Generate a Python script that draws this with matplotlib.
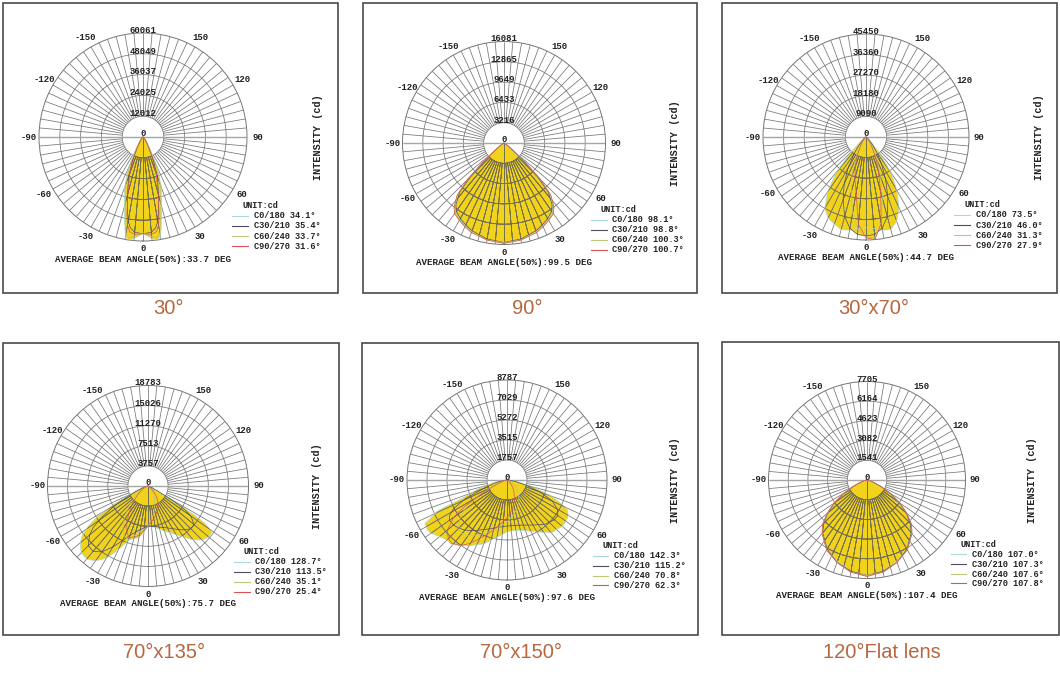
import numpy as np
import matplotlib
matplotlib.use("Agg")
from matplotlib import pyplot as plt
from matplotlib.patches import Rectangle

W, H = 1060, 678
MONO = "Liberation Mono"
YELLOW = "#f2d31c"
GRID = "#767676"
GRID_IN = "#77704c"
CAPTION = "#b8663e"
C_NAMES = ["C0/180", "C30/210", "C60/240", "C90/270"]
C_COLORS = ["#a9d9dc", "#4d4d66", "#bcc877", "#d9545a"]

# relative intensity (% of outer ring) against gamma angle, 0 = straight down
gamma_30 = [-90, -60, -40, -30, -25, -20, -15, -12, -10, -8, -5, 0, 5, 8, 10, 12, 15, 20, 25, 30, 40, 60, 90]
c0_30 = [0, 1, 4, 15, 33, 52, 69, 85, 97, 100, 98, 93, 98, 100, 97, 85, 69, 52, 33, 15, 4, 1, 0]
c30_30 = [0, 1, 3, 10, 22, 40, 58, 72, 82, 88, 92, 93, 92, 88, 82, 72, 58, 40, 22, 10, 3, 1, 0]
c60_30 = [0, 1, 4, 13, 30, 49, 66, 82, 94, 98, 96, 92, 96, 98, 94, 82, 66, 49, 30, 13, 4, 1, 0]
c90_30 = [0, 1, 3, 9, 20, 37, 56, 74, 86, 92, 94, 93, 94, 92, 86, 74, 56, 37, 20, 9, 3, 1, 0]
rings_30 = [12012, 24025, 36037, 48049, 60061]
beams_30 = [34.1, 35.4, 33.7, 31.6]
avg_30 = 33.7

gamma_90 = [-90, -60, -55, -50, -48, -45, -42, -38, -35, -30, -25, -20, -10, 0,
            10, 20, 25, 30, 35, 38, 42, 45, 48, 50, 55, 60, 90]
c0_90 = [0, 2, 4, 12, 25, 48, 67, 78, 83, 87, 90, 93, 97, 99, 97, 93, 90, 87, 83, 78, 67, 48, 25, 12, 4, 2, 0]
c30_90 = [0, 2, 4, 11, 23, 46, 65, 77, 82, 86, 89, 92, 96, 98, 96, 92, 89, 86, 82, 77, 65, 46, 23, 11, 4, 2, 0]
c60_90 = [0, 2, 5, 13, 27, 50, 68, 79, 84, 88, 91, 93, 97, 98, 97, 93, 91, 88, 84, 79, 68, 50, 27, 13, 5, 2, 0]
c90_90 = [0, 2, 5, 14, 28, 51, 69, 80, 85, 88, 91, 94, 97, 99, 97, 94, 91, 88, 85, 80, 69, 51, 28, 14, 5, 2, 0]
rings_90 = [3216, 6433, 9649, 12865, 16081]
beams_90 = [98.1, 98.8, 100.3, 100.7]
avg_90 = 99.5

gamma_3070 = [-90, -60, -50, -45, -40, -35, -30, -25, -20, -15, -10, -5, 0,
              5, 10, 15, 20, 25, 30, 35, 40, 45, 50, 60, 90]
c0_3070 = [0, 2, 6, 20, 45, 65, 80, 87, 90, 93, 92, 89, 88, 89, 92, 93, 87, 76, 60, 43, 20, 8, 4, 2, 0]
c30_3070 = [0, 1, 3, 5, 12, 20, 35, 50, 65, 80, 90, 95, 96, 95, 90, 80, 62, 45, 30, 18, 10, 5, 3, 1, 0]
c60_3070 = [0, 1, 2, 3, 5, 9, 15, 25, 40, 55, 75, 90, 97, 98, 85, 62, 42, 25, 15, 9, 5, 3, 2, 1, 0]
c90_3070 = [0, 1, 1, 2, 4, 7, 12, 20, 30, 42, 55, 85, 98, 100, 85, 55, 35, 22, 12, 7, 4, 2, 1, 1, 0]
rings_3070 = [9090, 18180, 27270, 36360, 45450]
beams_3070 = [73.5, 46.0, 31.3, 27.9]
avg_3070 = 44.7

gamma_70135 = [-90, -80, -75, -70, -66, -62, -59, -56, -53, -50, -45, -40, -35, -30, -25, -20, -10, 0,
               10, 20, 25, 30, 35, 40, 45, 50, 55, 57, 58, 60, 63, 70, 80, 90]
c0_70135 = [0, 2, 5, 10, 19, 38, 58, 72, 82, 88, 94, 95, 91, 83, 70, 58, 46, 40,
            42, 48, 51, 56, 62, 70, 76, 79, 78, 65, 55, 22, 8, 3, 1, 0]
c30_70135 = [0, 1, 3, 6, 12, 25, 40, 55, 68, 76, 84, 85, 80, 70, 60, 52, 44, 40,
             41, 44, 46, 49, 53, 57, 60, 60, 52, 45, 40, 25, 10, 3, 1, 0]
c60_70135 = [0, 0, 1, 2, 3, 5, 7, 10, 13, 17, 25, 33, 42, 50, 55, 57, 52, 40,
             30, 20, 16, 12, 9, 6, 4, 3, 2, 2, 2, 1, 1, 0, 0, 0]
c90_70135 = [0, 0, 1, 2, 3, 4, 6, 8, 10, 13, 18, 25, 33, 42, 50, 55, 50, 40,
             33, 27, 24, 20, 16, 12, 8, 5, 3, 3, 2, 2, 1, 0, 0, 0]
rings_70135 = [3757, 7513, 11270, 15026, 18783]
beams_70135 = [128.7, 113.5, 35.1, 25.4]
avg_70135 = 75.7

gamma_70150 = [-90, -85, -80, -75, -70, -68, -66, -62, -58, -55, -50, -45, -41, -35, -30, -20, -10, 0,
               10, 20, 30, 40, 50, 55, 60, 65, 70, 75, 80, 85, 90]
c0_70150 = [1, 4, 12, 25, 38, 47, 76, 93, 94, 93, 88, 85, 85, 80, 76, 68, 58, 52,
            51, 54, 60, 69, 72, 72, 71, 66, 47, 28, 12, 4, 1]
c30_70150 = [0, 2, 6, 14, 25, 32, 45, 60, 68, 70, 70, 68, 66, 62, 58, 52, 48, 46,
             46, 48, 52, 58, 62, 62, 58, 50, 35, 20, 8, 3, 0]
c60_70150 = [0, 1, 2, 4, 8, 12, 18, 30, 42, 52, 62, 68, 70, 68, 64, 56, 48, 42,
             36, 30, 24, 18, 12, 9, 6, 4, 2, 1, 0, 0, 0]
c90_70150 = [0, 0, 1, 3, 6, 9, 14, 28, 50, 65, 78, 83, 84, 80, 73, 58, 46, 38,
             30, 22, 14, 8, 4, 2, 1, 1, 0, 0, 0, 0, 0]
rings_70150 = [1757, 3515, 5272, 7029, 8787]
beams_70150 = [142.3, 115.2, 70.8, 62.3]
avg_70150 = 97.6

gamma_flat = [-90, -80, -70, -65, -60, -55, -50, -45, -40, -30, -20, -10, 0,
              10, 20, 30, 40, 45, 50, 55, 60, 65, 70, 80, 90]
c0_flat = [0, 2, 7, 15, 27, 40, 52, 63, 70, 81, 88, 94, 97, 94, 88, 81, 70, 63, 52, 40, 27, 15, 7, 2, 0]
c30_flat = [0, 2, 7, 15, 27, 40, 52, 62, 70, 81, 89, 94, 97, 94, 89, 81, 70, 62, 52, 40, 27, 15, 7, 2, 0]
c60_flat = [0, 2, 8, 16, 28, 41, 53, 64, 71, 82, 89, 95, 97, 95, 89, 82, 71, 64, 53, 41, 28, 16, 8, 2, 0]
c90_flat = [0, 2, 8, 16, 28, 41, 53, 64, 71, 82, 89, 95, 98, 95, 89, 82, 71, 64, 53, 41, 28, 16, 8, 2, 0]
rings_flat = [1541, 3082, 4623, 6164, 7705]
beams_flat = [107.0, 107.3, 107.6, 107.8]
avg_flat = 107.4

captions = ["30°", "90°", "30°x70°", "70°x135°", "70°x150°", "120°Flat lens"]

fig = plt.figure(figsize=(W / 100, H / 100), dpi=100)
fig.patch.set_facecolor("white")


def txt(ax, x, y, s, size=6.5, **kw):
    kw.setdefault("ha", "center")
    kw.setdefault("va", "center")
    ax.text(x, y, s, family=MONO, fontsize=size, weight="bold", color="#222222", **kw)


def grid(ax, colour, lw, clip=None):
    circle = np.linspace(0, 2 * np.pi, 361)
    arts = []
    for r in (20, 40, 60, 80):
        arts += ax.plot(circle, np.full_like(circle, r), color=colour, lw=lw, zorder=2)
    spokes = [a for a in range(0, 360, 5) if a not in (0, 90, 270)]
    arts.append(ax.vlines(np.radians(spokes), 20, 100, colors=colour, lw=lw, zorder=2))
    arts.append(ax.vlines(0, 0, 100, colors=colour, lw=lw, zorder=2))
    if clip is not None:
        for a in arts:
            a.set_clip_path(clip)


def panel(box, centre, R, gamma, curves, rings, beams, avg, caption, cap_xy):
    x0, y0, x1, y1 = box
    fig.add_artist(Rectangle((x0 / W, 1 - y1 / H), (x1 - x0) / W, (y1 - y0) / H,
                             transform=fig.transFigure, fill=False, ec="#4a4a4a", lw=1.2))
    cx, cy = centre
    ax = fig.add_axes([(cx - R) / W, 1 - (cy + R) / H, 2 * R / W, 2 * R / H], projection="polar")
    ax.set_theta_zero_location("S")
    ax.set_xticks([])
    ax.set_yticks([])
    ax.grid(False)
    ax.spines["polar"].set_color(GRID)
    ax.spines["polar"].set_linewidth(0.7)

    th = np.radians(gamma)
    fills = []
    for vals in curves:
        fills += ax.fill(th, vals, color=YELLOW, lw=0, zorder=1)

    # grid is grey on white and darker where it crosses the beam
    grid(ax, GRID, 0.55)
    for poly in fills:
        grid(ax, GRID_IN, 0.4, poly)
    ax.vlines(np.radians([90, 270]), 0, 100, colors="#a5a5a5", lw=1.0, zorder=2)

    for vals, col in zip(curves, C_COLORS):
        ax.plot(th, vals, color=col, lw=0.5, zorder=3)
    ax.set_ylim(0, 100)

    for a in (-150, -120, -90, -60, -30, 30, 60, 90, 120, 150):
        txt(ax, np.radians(a), 110, str(a))
    txt(ax, 0, 107.5, "0")
    for k, lab in enumerate(rings):
        txt(ax, np.pi, 20 * (k + 1) + 2.5, str(lab))
    txt(ax, np.pi, 3, "0")

    txt(ax, 0.976, 0.1725, "UNIT:cd", size=6.2, ha="left", transform=ax.transAxes)
    rows = [0.1225, 0.0725, 0.0225, -0.025]
    for y, name, b, col in zip(rows, C_NAMES, beams, C_COLORS):
        ax.plot([0.9275, 1.005], [y, y], color=col, lw=0.8, transform=ax.transAxes, clip_on=False)
        txt(ax, 1.0325, y, "%s %.1f°" % (name, b), size=6.2, ha="left", transform=ax.transAxes)
    txt(ax, 0.5, -0.087, "AVERAGE BEAM ANGLE(50%%):%.1f DEG" % avg, size=6.6, transform=ax.transAxes)
    txt(ax, 1.34, 0.5, "INTENSITY (cd)", size=7.3, rotation=90, transform=ax.transAxes)

    fig.text(cap_xy[0] / W, 1 - cap_xy[1] / H, caption, ha="center", va="center",
             fontsize=14.5, color=CAPTION, family="Liberation Sans")


panel((3, 3, 338, 293), (143, 137), 104, gamma_30, [c0_30, c30_30, c60_30, c90_30],
      rings_30, beams_30, avg_30, captions[0], (168, 308))
panel((363, 3, 697, 293), (504, 143), 101.5, gamma_90, [c0_90, c30_90, c60_90, c90_90],
      rings_90, beams_90, avg_90, captions[1], (527, 308))
panel((722, 3, 1057, 293), (866, 137), 103, gamma_3070, [c0_3070, c30_3070, c60_3070, c90_3070],
      rings_3070, beams_3070, avg_3070, captions[2], (874, 308))
panel((3, 343, 339, 635), (148, 486), 100.5, gamma_70135, [c0_70135, c30_70135, c60_70135, c90_70135],
      rings_70135, beams_70135, avg_70135, captions[3], (164, 653))
panel((362, 343, 698, 635), (507, 480), 100, gamma_70150, [c0_70150, c30_70150, c60_70150, c90_70150],
      rings_70150, beams_70150, avg_70150, captions[4], (521, 653))
panel((722, 342, 1059, 635), (867, 480), 98.5, gamma_flat, [c0_flat, c30_flat, c60_flat, c90_flat],
      rings_flat, beams_flat, avg_flat, captions[5], (882, 653))

plt.savefig("out.png", dpi=100, facecolor="white")
